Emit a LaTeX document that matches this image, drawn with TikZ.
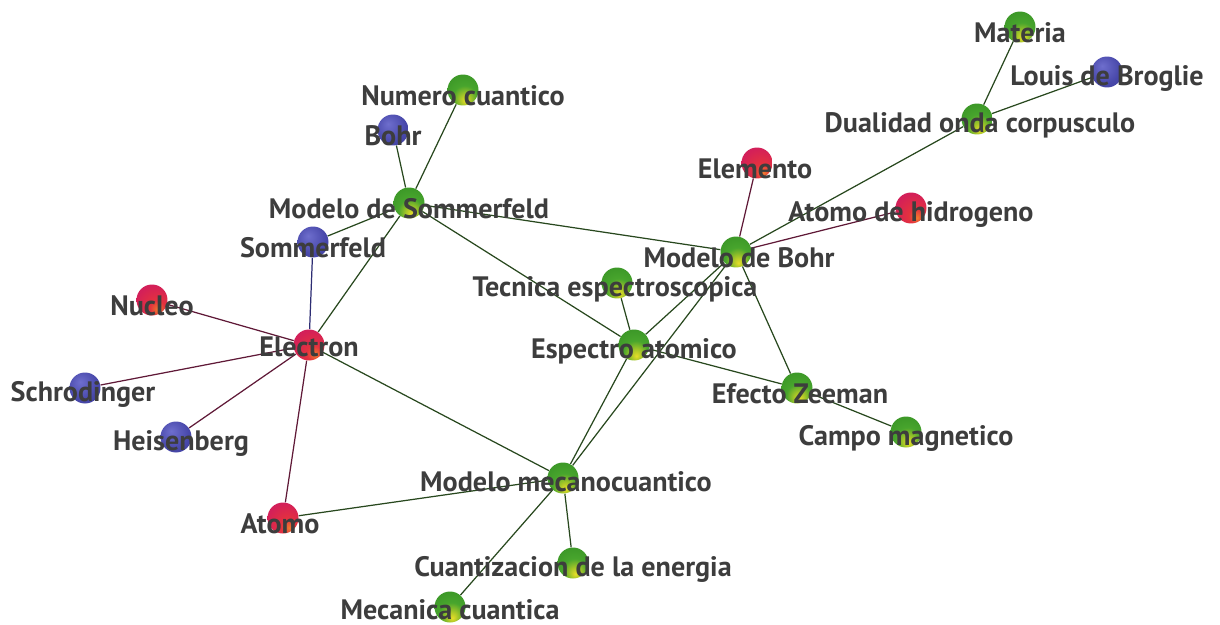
\documentclass[tikz,border=0pt]{standalone}
\usepackage{fontspec}
\setmainfont{PT Sans}
\usepackage{tikz}
\usetikzlibrary{backgrounds}

\definecolor{gedgec}{RGB}{40,72,30}
\definecolor{redgec}{RGB}{95,25,55}
\definecolor{bedgec}{RGB}{45,45,115}

\definecolor{ghi}{RGB}{232,222,40}
\definecolor{gmid}{RGB}{172,200,40}
\definecolor{gbody}{RGB}{72,165,45}
\definecolor{gside}{RGB}{50,140,35}
\definecolor{gdark}{RGB}{28,100,25}
\definecolor{rhi}{RGB}{240,125,45}
\definecolor{rmid}{RGB}{228,50,62}
\definecolor{rbody}{RGB}{212,32,88}
\definecolor{rside}{RGB}{195,30,105}
\definecolor{rdark}{RGB}{125,18,62}
\definecolor{bhi}{RGB}{110,110,205}
\definecolor{bbody}{RGB}{72,72,170}
\definecolor{bside}{RGB}{58,58,150}
\definecolor{bdark}{RGB}{38,38,112}

\pgfdeclareradialshading{greenball}{\pgfpoint{4bp}{-18bp}}{%
  color(0bp)=(ghi); color(8bp)=(gmid); color(20bp)=(gbody);
  color(48bp)=(gside); color(70bp)=(gdark)}
\pgfdeclareradialshading{redball}{\pgfpoint{10bp}{-16bp}}{%
  color(0bp)=(rhi); color(12bp)=(rmid); color(32bp)=(rbody);
  color(52bp)=(rside); color(70bp)=(rdark)}
\pgfdeclareradialshading{blueball}{\pgfpoint{-8bp}{10bp}}{%
  color(0bp)=(bhi); color(25bp)=(bbody); color(48bp)=(bside);
  color(65bp)=(bdark)}

\begin{document}
\begin{tikzpicture}[x=0.02cm, y=-0.02cm,
    ball/.style={circle, inner sep=0pt, minimum size=0.62cm},
    gball/.style={ball, shading=greenball},
    rball/.style={ball, shading=redball},
    bball/.style={ball, shading=blueball},
    lbl/.style={font=\bfseries\fontsize{16}{16}\selectfont, text=black!76, yshift=-0.12cm},
    gedge/.style={draw=gedgec, line width=0.7pt},
    redge/.style={draw=redgec, line width=0.7pt},
    bedge/.style={draw=bedgec, line width=0.7pt}]

\useasboundingbox (0,0) rectangle (1220,625);

\node [gball, label={[lbl]center:Materia}] (mat) at (1020,27) {};
\node [bball, label={[lbl]center:Louis de Broglie}] (ldb) at (1107,72) {};
\node [gball, label={[lbl, xshift=0.06cm]center:Dualidad onda corpusculo}] (dual) at (977,119) {};
\node [rball, label={[lbl, xshift=-0.04cm]center:Elemento}] (elem) at (757,163) {};
\node [rball, label={[lbl]center:Atomo de hidrogeno}] (hidro) at (911,208) {};
\node [gball, label={[lbl, xshift=0.06cm]center:Modelo de Bohr}] (mbohr) at (736,252) {};
\node [gball, label={[lbl]center:Numero cuantico}] (numc) at (463,90) {};
\node [bball, label={[lbl]center:Bohr}] (bohr) at (393,130) {};
\node [gball, label={[lbl]center:Modelo de Sommerfeld}] (msomm) at (409,203) {};
\node [bball, label={[lbl]center:Sommerfeld}] (somm) at (313,242) {};
\node [gball, label={[lbl, xshift=-0.04cm]center:Tecnica espectroscopica}] (tec) at (617,283) {};
\node [rball, label={[lbl]center:Nucleo}] (nuc) at (152,300) {};
\node [rball, label={[lbl, yshift=0.08cm]center:Electron}] (elec) at (309,345) {};
\node [gball, label={[lbl]center:Espectro atomico}] (esp) at (634,345) {};
\node [bball, label={[lbl, xshift=-0.04cm]center:Schrodinger}] (schr) at (85,388) {};
\node [gball, label={[lbl, xshift=0.06cm]center:Efecto Zeeman}] (zee) at (797,388) {};
\node [bball, label={[lbl, xshift=0.1cm]center:Heisenberg}] (heis) at (176,437) {};
\node [gball, label={[lbl]center:Campo magnetico}] (campo) at (906,432) {};
\node [gball, label={[lbl, xshift=0.06cm, yshift=0.04cm]center:Modelo mecanocuantico}] (mmec) at (563,478) {};
\node [rball, label={[lbl, xshift=-0.06cm]center:Atomo}] (atomo) at (283,518) {};
\node [gball, label={[lbl]center:Cuantizacion de la energia}] (cuant) at (573,563) {};
\node [gball, label={[lbl, yshift=0.06cm]center:Mecanica cuantica}] (mecc) at (450,607) {};

\begin{pgfonlayer}{background}
\foreach \a/\b in {mat/dual, ldb/dual, dual/mbohr, mbohr/msomm, mbohr/esp, mbohr/mmec,
    mbohr/zee, zee/campo, esp/zee, esp/tec, esp/msomm, esp/mmec, msomm/numc,
    msomm/bohr, msomm/somm, msomm/elec, elec/mmec, atomo/mmec, mmec/cuant, mmec/mecc}
    \draw [gedge] (\a) -- (\b);

\foreach \a/\b in {elem/mbohr, hidro/mbohr, nuc/elec, elec/atomo, schr/elec, heis/elec}
    \draw [redge] (\a) -- (\b);

\draw [bedge] (somm) -- (elec);
\end{pgfonlayer}

\end{tikzpicture}
\end{document}
